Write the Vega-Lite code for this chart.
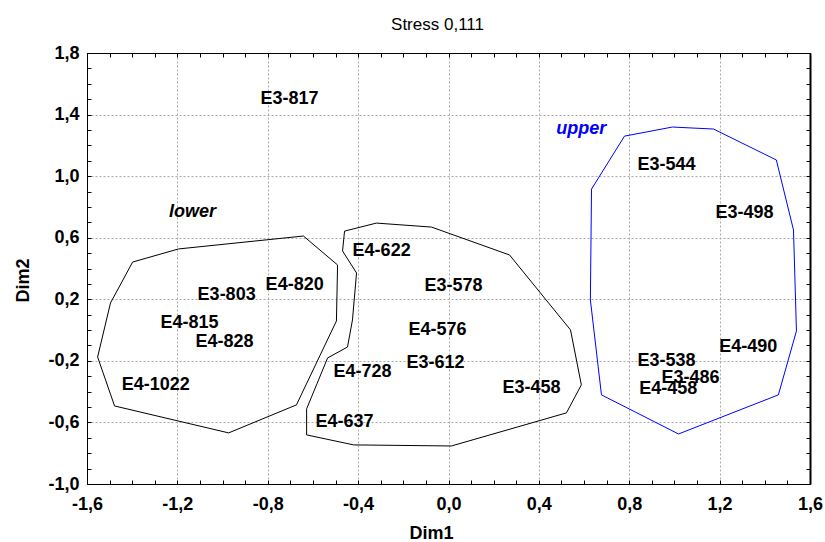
{
  "$schema": "https://vega.github.io/schema/vega-lite/v6.json",
  "width": 723,
  "height": 431,
  "autosize": {"type": "none"},
  "padding": {"left": 87, "top": 53, "right": 15, "bottom": 58},
  "background": "white",
  "title": {
    "text": "Stress 0,111",
    "font": "Liberation Sans",
    "fontSize": 17,
    "fontWeight": "normal",
    "color": "black",
    "anchor": "middle",
    "frame": "group",
    "baseline": "alphabetic",
    "offset": 22,
    "dx": -11,
    "dy": 25
  },
  "config": {
    "locale": {"number": {"decimal": ",", "thousands": ".", "grouping": [3], "currency": ["", ""], "minus": "-"}},
    "view": {"stroke": null},
    "axis": {
      "labelFont": "Liberation Sans",
      "labelFontSize": 18,
      "labelFontWeight": "bold",
      "labelColor": "black",
      "titleFont": "Liberation Sans",
      "titleFontSize": 18,
      "titleFontWeight": "bold",
      "titleColor": "black",
      "tickColor": "black",
      "tickSize": -4,
      "tickWidth": 1,
      "domainColor": "black",
      "domainWidth": 1,
      "gridColor": "#a8a8a8",
      "gridDash": [2, 2],
      "gridWidth": 1
    }
  },
  "datasets": {
    "polys": [
      {"cluster": "lower", "i": 1, "x": -1.398, "y": 0.442},
      {"cluster": "lower", "i": 2, "x": -1.195, "y": 0.527},
      {"cluster": "lower", "i": 3, "x": -0.642, "y": 0.611},
      {"cluster": "lower", "i": 4, "x": -0.491, "y": 0.423},
      {"cluster": "lower", "i": 5, "x": -0.496, "y": 0.059},
      {"cluster": "lower", "i": 6, "x": -0.673, "y": -0.486},
      {"cluster": "lower", "i": 7, "x": -0.973, "y": -0.668},
      {"cluster": "lower", "i": 8, "x": -1.478, "y": -0.493},
      {"cluster": "lower", "i": 9, "x": -1.553, "y": -0.175},
      {"cluster": "lower", "i": 10, "x": -1.496, "y": 0.176},
      {"cluster": "lower", "i": 11, "x": -1.398, "y": 0.442},
      {"cluster": "middle", "i": 1, "x": -0.46, "y": 0.643},
      {"cluster": "middle", "i": 2, "x": -0.319, "y": 0.695},
      {"cluster": "middle", "i": 3, "x": -0.075, "y": 0.669},
      {"cluster": "middle", "i": 4, "x": 0.27, "y": 0.488},
      {"cluster": "middle", "i": 5, "x": 0.54, "y": 0.001},
      {"cluster": "middle", "i": 6, "x": 0.588, "y": -0.356},
      {"cluster": "middle", "i": 7, "x": 0.522, "y": -0.538},
      {"cluster": "middle", "i": 8, "x": 0.013, "y": -0.753},
      {"cluster": "middle", "i": 9, "x": -0.42, "y": -0.746},
      {"cluster": "middle", "i": 10, "x": -0.628, "y": -0.681},
      {"cluster": "middle", "i": 11, "x": -0.628, "y": -0.512},
      {"cluster": "middle", "i": 12, "x": -0.535, "y": -0.181},
      {"cluster": "middle", "i": 13, "x": -0.447, "y": -0.11},
      {"cluster": "middle", "i": 14, "x": -0.425, "y": 0.066},
      {"cluster": "middle", "i": 15, "x": -0.407, "y": 0.371},
      {"cluster": "middle", "i": 16, "x": -0.469, "y": 0.514},
      {"cluster": "middle", "i": 17, "x": -0.46, "y": 0.643},
      {"cluster": "upper", "i": 1, "x": 0.633, "y": 0.916},
      {"cluster": "upper", "i": 2, "x": 0.779, "y": 1.26},
      {"cluster": "upper", "i": 3, "x": 0.991, "y": 1.319},
      {"cluster": "upper", "i": 4, "x": 1.173, "y": 1.306},
      {"cluster": "upper", "i": 5, "x": 1.451, "y": 1.105},
      {"cluster": "upper", "i": 6, "x": 1.527, "y": 0.65},
      {"cluster": "upper", "i": 7, "x": 1.54, "y": -0.006},
      {"cluster": "upper", "i": 8, "x": 1.46, "y": -0.421},
      {"cluster": "upper", "i": 9, "x": 1.018, "y": -0.675},
      {"cluster": "upper", "i": 10, "x": 0.677, "y": -0.421},
      {"cluster": "upper", "i": 11, "x": 0.628, "y": 0.196},
      {"cluster": "upper", "i": 12, "x": 0.633, "y": 0.916}
    ],
    "labels": [
      {"label": "E3-817", "x": -0.704, "y": 1.5},
      {"label": "E4-622", "x": -0.296, "y": 0.514},
      {"label": "E3-544", "x": 0.965, "y": 1.072},
      {"label": "E3-498", "x": 1.31, "y": 0.76},
      {"label": "E3-803", "x": -0.982, "y": 0.228},
      {"label": "E4-820", "x": -0.681, "y": 0.293},
      {"label": "E4-815", "x": -1.146, "y": 0.046},
      {"label": "E4-828", "x": -0.991, "y": -0.077},
      {"label": "E4-1022", "x": -1.296, "y": -0.356},
      {"label": "E4-728", "x": -0.381, "y": -0.272},
      {"label": "E4-637", "x": -0.46, "y": -0.597},
      {"label": "E3-578", "x": 0.022, "y": 0.286},
      {"label": "E4-576", "x": -0.049, "y": 0.001},
      {"label": "E3-612", "x": -0.058, "y": -0.214},
      {"label": "E3-458", "x": 0.367, "y": -0.376},
      {"label": "E3-538", "x": 0.965, "y": -0.201},
      {"label": "E3-486", "x": 1.071, "y": -0.311},
      {"label": "E4-458", "x": 0.973, "y": -0.382},
      {"label": "E4-490", "x": 1.327, "y": -0.11}
    ],
    "groups": [
      {"cluster": "lower", "x": -1.133, "y": 0.767},
      {"cluster": "upper", "x": 0.588, "y": 1.306}
    ]
  },
  "resolve": {"axis": {"x": "independent", "y": "independent"}},
  "layer": [
    {
      "data": {"name": "polys"},
      "mark": {"type": "line", "strokeWidth": 1, "interpolate": "linear"},
      "encoding": {
        "x": {
          "field": "x", "type": "quantitative",
          "scale": {"domain": [-1.6, 1.6], "nice": false, "zero": false},
          "axis": {
            "orient": "bottom",
            "values": [-1.6,-1.5,-1.4,-1.3,-1.2,-1.1,-1.0,-0.9,-0.8,-0.7,-0.6,-0.5,-0.4,-0.3,-0.2,-0.1,0,0.1,0.2,0.3,0.4,0.5,0.6,0.7,0.8,0.9,1.0,1.1,1.2,1.3,1.4,1.5,1.6],
            "format": ".1f",
            "labelExpr": "round(datum.value*10) % 4 == 0 ? datum.label : ''",
            "grid": true,
            "gridOpacity": {"condition": {"test": "round(datum.value*10) % 4 == 0", "value": 1}, "value": 0},
            "labelPadding": 15,
            "labelOverlap": false,
            "labelFlush": false,
            "labelBound": false,
            "title": "Dim1",
            "titleX": 344,
            "titleY": 54,
            "titleAlign": "center",
            "titleBaseline": "alphabetic"
          }
        },
        "y": {
          "field": "y", "type": "quantitative",
          "scale": {"domain": [-1.0, 1.8], "nice": false, "zero": false},
          "axis": {
            "orient": "left",
            "values": [-1.0,-0.9,-0.8,-0.7,-0.6,-0.5,-0.4,-0.3,-0.2,-0.1,0,0.1,0.2,0.3,0.4,0.5,0.6,0.7,0.8,0.9,1.0,1.1,1.2,1.3,1.4,1.5,1.6,1.7,1.8],
            "format": ".1f",
            "labelExpr": "(round(datum.value*10)+10) % 4 == 0 ? datum.label : ''",
            "grid": true,
            "gridOpacity": {"condition": {"test": "(round(datum.value*10)+10) % 4 == 0", "value": 1}, "value": 0},
            "labelPadding": 12,
            "labelOverlap": false,
            "labelFlush": false,
            "labelBound": false,
            "title": "Dim2",
            "titleX": -59,
            "titleY": 227,
            "titleAngle": -90,
            "titleAlign": "center",
            "titleBaseline": "alphabetic"
          }
        },
        "color": {
          "field": "cluster", "type": "nominal",
          "scale": {"domain": ["lower", "middle", "upper"], "range": ["#000000", "#000000", "#0000ff"]},
          "legend": null
        },
        "order": {"field": "i", "type": "quantitative"}
      }
    },
    {
      "data": {"name": "labels"},
      "mark": {"type": "text", "font": "Liberation Sans", "fontSize": 18, "fontWeight": "bold", "color": "black", "align": "center", "baseline": "middle"},
      "encoding": {
        "x": {
          "field": "x", "type": "quantitative",
          "axis": {
            "orient": "top",
            "values": [-1.6,-1.5,-1.4,-1.3,-1.2,-1.1,-1.0,-0.9,-0.8,-0.7,-0.6,-0.5,-0.4,-0.3,-0.2,-0.1,0,0.1,0.2,0.3,0.4,0.5,0.6,0.7,0.8,0.9,1.0,1.1,1.2,1.3,1.4,1.5,1.6],
            "labels": false,
            "grid": false,
            "title": null
          }
        },
        "y": {
          "field": "y", "type": "quantitative",
          "axis": {
            "orient": "right",
            "values": [-1.0,-0.9,-0.8,-0.7,-0.6,-0.5,-0.4,-0.3,-0.2,-0.1,0,0.1,0.2,0.3,0.4,0.5,0.6,0.7,0.8,0.9,1.0,1.1,1.2,1.3,1.4,1.5,1.6,1.7,1.8],
            "labels": false,
            "grid": false,
            "title": null,
            "domainWidth": 2
          }
        },
        "text": {"field": "label", "type": "nominal"}
      }
    },
    {
      "data": {"name": "groups"},
      "mark": {"type": "text", "font": "Liberation Sans", "fontSize": 18, "fontWeight": "bold", "fontStyle": "italic", "align": "center", "baseline": "middle"},
      "encoding": {
        "x": {"field": "x", "type": "quantitative", "axis": null},
        "y": {"field": "y", "type": "quantitative", "axis": null},
        "text": {"field": "cluster", "type": "nominal"},
        "color": {"field": "cluster", "type": "nominal", "legend": null}
      }
    }
  ]
}
